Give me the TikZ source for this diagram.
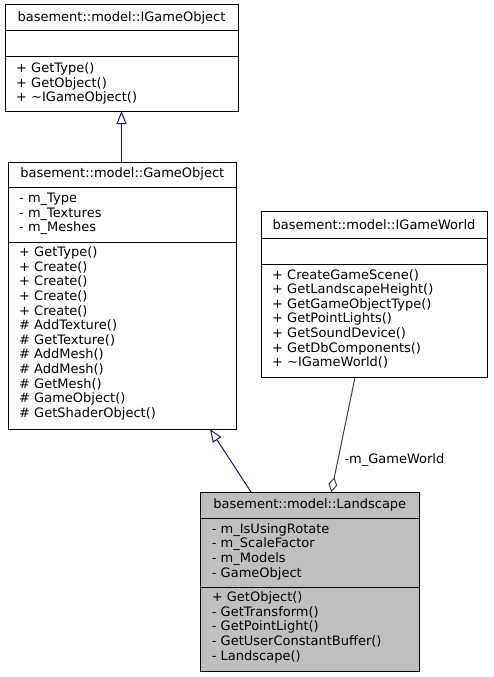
\documentclass[tikz,border=0pt]{standalone}
\usepackage{fontspec}
\setmainfont{DejaVu Sans}
\usetikzlibrary{arrows.meta,calc}
\definecolor{inhcol}{HTML}{191970}
\definecolor{aggcol}{HTML}{404040}
\definecolor{focfill}{HTML}{BFBFBF}
\begin{document}
\begin{tikzpicture}[x=1pt,y=-1pt,
  box/.style={draw=black, line width=1pt, rectangle, inner sep=0pt, outer sep=0pt, anchor=north west},
  member/.style={font=\fontsize{13}{15}\selectfont, anchor=base west, inner sep=0pt},
  ttl/.style={font=\fontsize{13}{15}\selectfont, anchor=base, inner sep=0pt},
  sepline/.style={draw=black, line width=1pt},
  inh/.style={draw=inhcol, line width=1pt, -{Triangle[open, length=13pt, width=10pt, fill=white]}},
  agg/.style={draw=aggcol, line width=1pt, {Diamond[open, length=15pt, width=9pt, fill=white]}-},
  lbl/.style={font=\fontsize{13}{15}\selectfont, anchor=base west, inner sep=0pt}]
\useasboundingbox (0,0) rectangle (493,677);
\fill[white] (0,0) rectangle (493,677);

% IGameObject
\node[box, minimum width=233pt, minimum height=106pt] (igo) at (5,5) {};
\draw[sepline] (5,31) -- (238,31);
\draw[sepline] (5,57) -- (238,57);
\node[ttl] (igot) at (121.5,21.5) {basement::model::IGameObject};
\foreach \t [count=\i from 0] in {+ GetType(), + GetObject(), + \textasciitilde IGameObject()}
  \node[member] (igom\i) at (16,72.5+14.6*\i) {\t};

% GameObject
\node[box, minimum width=228.7pt, minimum height=267pt] (go) at (8,162) {};
\draw[sepline] (8,187.3) -- (236.7,187.3);
\draw[sepline] (8,242.3) -- (236.7,242.3);
\node[ttl] (got) at (122.3,177.7) {basement::model::GameObject};
\foreach \t [count=\i from 0] in {- m\_Type, - m\_Textures, - m\_Meshes}
  \node[member] (goa\i) at (19,202.7+14.6*\i) {\t};
\foreach \t [count=\i from 0] in {+ GetType(), + Create(), + Create(), + Create(), + Create(), \# AddTexture(), \# GetTexture(), \# AddMesh(), \# AddMesh(), \# GetMesh(), \# GameObject(), \# GetShaderObject()}
  \node[member] (gom\i) at (19,256.7+14.6*\i) {\t};

% IGameWorld
\node[box, minimum width=226pt, minimum height=166.3pt] (igw) at (261,211) {};
\draw[sepline] (261,238) -- (487,238);
\draw[sepline] (261,264) -- (487,264);
\node[ttl] (igwt) at (374,229) {basement::model::IGameWorld};
\foreach \t [count=\i from 0] in {+ CreateGameScene(), + GetLandscapeHeight(), + GetGameObjectType(), + GetPointLights(), + GetSoundDevice(), + GetDbComponents(), + \textasciitilde IGameWorld()}
  \node[member] (igwm\i) at (272,279+14.6*\i) {\t};

% Landscape
\node[box, fill=focfill, minimum width=218.3pt, minimum height=179pt] (land) at (200.7,492) {};
\draw[sepline] (200.7,518) -- (419,518);
\draw[sepline] (200.7,587) -- (419,587);
\node[ttl] (landt) at (309.8,508.7) {basement::model::Landscape};
\foreach \t [count=\i from 0] in {- m\_IsUsingRotate, - m\_ScaleFactor, - m\_Models, - GameObject}
  \node[member] (landa\i) at (211.7,533.3+14.6*\i) {\t};
\foreach \t [count=\i from 0] in {+ GetObject(), - GetTransform(), - GetPointLight(), - GetUserConstantBuffer(), - Landscape()}
  \node[member] (landm\i) at (211.7,601.7+14.6*\i) {\t};

% connectors
\draw[inh] ($(go.north west)+(113.5,0)$) -- ($(igo.south west)+(116.5,0)$);
\draw[inh] ($(land.north west)+(50.3,0)$) -- ($(go.south west)+(202,0)$);
\draw[agg] ($(land.north west)+(130.6,0)$) -- ($(igw.south west)+(94,0)$);
\node[lbl] (agglbl) at (344.3,463.3) {-m\_GameWorld};
\end{tikzpicture}
\end{document}
